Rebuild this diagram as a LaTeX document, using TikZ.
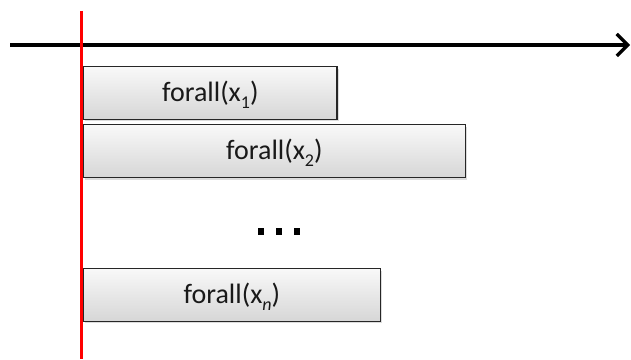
\documentclass[tikz,border=0pt]{standalone}
\usepackage{fontspec}
\setmainfont{Carlito}
\usetikzlibrary{arrows.meta,shadows}
% lowered subscript in the Calibri style (its depth is not counted)
\newcommand{\lowsub}[1]{\raisebox{-7.5pt}[0pt][0pt]{\fontsize{18}{20}\selectfont #1}}
\begin{document}
\begin{tikzpicture}[x=1pt,y=1pt,
  taskbox/.style={draw=black!85, line width=1.3pt, top color=gray!5, bottom color=gray!32,
    drop shadow={opacity=0.28, shadow xshift=1.8pt, shadow yshift=-2pt},
    font=\fontsize{28}{32}\selectfont, text=black!90, inner sep=0pt},
  dotmark/.style={fill=black, minimum size=6.5pt, inner sep=0pt}]
\useasboundingbox (0,0) rectangle (631,359);
% time axis
\coordinate (ax0) at (10,314);
\coordinate (ax1) at (630,314);
\draw[line width=3.6pt, -{Straight Barb[length=11pt,width=22pt,line width=3.2pt]}] (ax0) -- (ax1);
% start line
\coordinate (r0) at (81.5,348);
\coordinate (r1) at (81.5,0);
\draw[red, line width=3.6pt] (r0) -- (r1);
% loop bodies
\node[taskbox, minimum width=253.3pt, minimum height=52.7pt, anchor=south west] (b1) at (83,239) {forall(x\lowsub{1})};
\node[taskbox, minimum width=381.5pt, minimum height=53pt, anchor=south west] (b2) at (83,180.7) {forall(x\lowsub{2})};
\node[taskbox, minimum width=296.5pt, minimum height=52.7pt, anchor=south west] (bn) at (83,37) {forall(x\lowsub{\itshape n})};
% ellipsis
\node[dotmark] (d1) at (261,127.3) {};
\node[dotmark] (d2) at (279,127.3) {};
\node[dotmark] (d3) at (297,127.3) {};
\end{tikzpicture}
\end{document}
